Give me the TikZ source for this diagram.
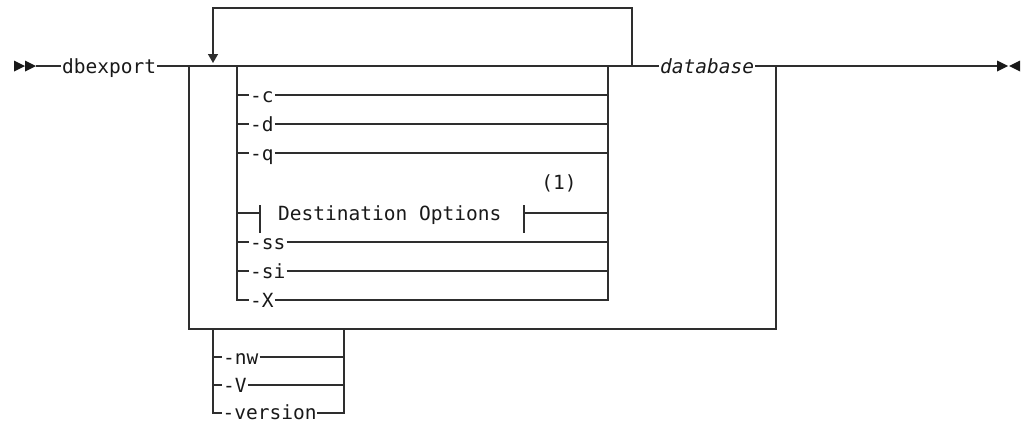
\documentclass[tikz,border=0pt]{standalone}
\usepackage{fontspec}
\setmonofont{DejaVu Sans Mono}
\usetikzlibrary{arrows.meta}
\begin{document}
\begin{tikzpicture}[x=1pt,y=-1pt,
  rail/.style={draw=black!82, line width=1.4pt},
  kw/.style={font=\fontsize{19.5}{20}\selectfont\ttfamily, text=black!90,
             inner sep=1pt, anchor=base west},
  var/.style={kw, font=\fontsize{19.5}{20}\selectfont\ttfamily\itshape},
  tip/.style={fill=black!90}]
\useasboundingbox (0,0) rectangle (1024,423);

% ---- entry and exit markers
\fill[tip] (14,60.5) -- (25,66) -- (14,71.5) -- cycle;
\fill[tip] (25,60.5) -- (36,66) -- (25,71.5) -- cycle;
\fill[tip] (997,60.5) -- (1008,66) -- (997,71.5) -- cycle;
\fill[tip] (1020,60.5) -- (1009,66) -- (1020,71.5) -- cycle;

% ---- key points of the main rail
\coordinate (start) at (36,66);
\coordinate (oL)  at (189,66);
\coordinate (oR)  at (776,66);
\coordinate (oBR) at (776,329);
\coordinate (iL)  at (237,66);
\coordinate (iR)  at (608,66);
\coordinate (lpR) at (632,66);
\coordinate (lpL) at (213,8);
\coordinate (lpTip) at (213,63);
\coordinate (stop) at (997,66);

\node[kw]  (cmd) at (61,73.5)  {dbexport};
\node[var] (db)  at (659,73.5) {database};

% main line
\draw[rail] (start) -- (cmd.west |- start);
\draw[rail] (cmd.east |- start) -- (iR) -- (db.west |- start);
\draw[rail] (db.east |- start) -- (stop);

% repeat loop over the option group
\draw[rail, -{Triangle[width=10pt,length=9pt]}] (lpR) |- (lpL) -- (lpTip);

% outer bypass around options and database
\draw[rail] (oL) |- (oBR) -- (oR);

% ---- option group: the last row closes the frame
\coordinate (lX) at (237,300);
\coordinate (rX) at (608,300);
\node[kw] (oX) at (249,307.5) {-X};
\draw[rail] (iL) -- (lX) -- (oX.west |- lX);
\draw[rail] (oX.east |- lX) -- (rX) -- (iR);

\foreach \n/\t/\y in {c/-c/95, d/-d/124, q/-q/153, ss/-ss/242, si/-si/271}{
  \coordinate (l\n) at (237,\y);
  \coordinate (r\n) at (608,\y);
  \node[kw] (o\n) at (249,\y+7.5) {\t};
  \draw[rail] (l\n) -- (o\n.west |- l\n);
  \draw[rail] (o\n.east |- l\n) -- (r\n);
}

% ---- fragment reference row
\coordinate (lDO) at (237,213);
\coordinate (rDO) at (608,213);
\coordinate (tA) at (260,213);
\coordinate (tB) at (524,213);
\node[kw] (DO) at (277,220.5) {Destination Options};
\node[font=\fontsize{19.5}{20}\selectfont\ttfamily, text=black!90, inner sep=0pt] (note) at (559,183) {(1)};
\draw[rail] (lDO) -- (tA);
\draw[rail] (tA |- 0,205) -- (tA |- 0,233);
\draw[rail] (tB |- 0,205) -- (tB |- 0,233);
\draw[rail] (tB) -- (rDO);

% ---- alternatives hanging below the bypass
\coordinate (bL)  at (213,329);
\coordinate (bR)  at (344,329);
\coordinate (blver) at (213,413);
\coordinate (brver) at (344,413);
\node[kw, inner sep=0.5pt] (bver) at (222,419.5) {-version};
\draw[rail] (bL) -- (blver) -- (bver.west |- blver);
\draw[rail] (bver.east |- blver) -- (brver) -- (bR);
\foreach \n/\t/\y in {nw/-nw/357, V/-V/385}{
  \coordinate (bl\n) at (213,\y);
  \coordinate (br\n) at (344,\y);
  \node[kw] (b\n) at (222,\y+7.5) {\t};
  \draw[rail] (bl\n) -- (b\n.west |- bl\n);
  \draw[rail] (b\n.east |- bl\n) -- (br\n);
}
\end{tikzpicture}
\end{document}
